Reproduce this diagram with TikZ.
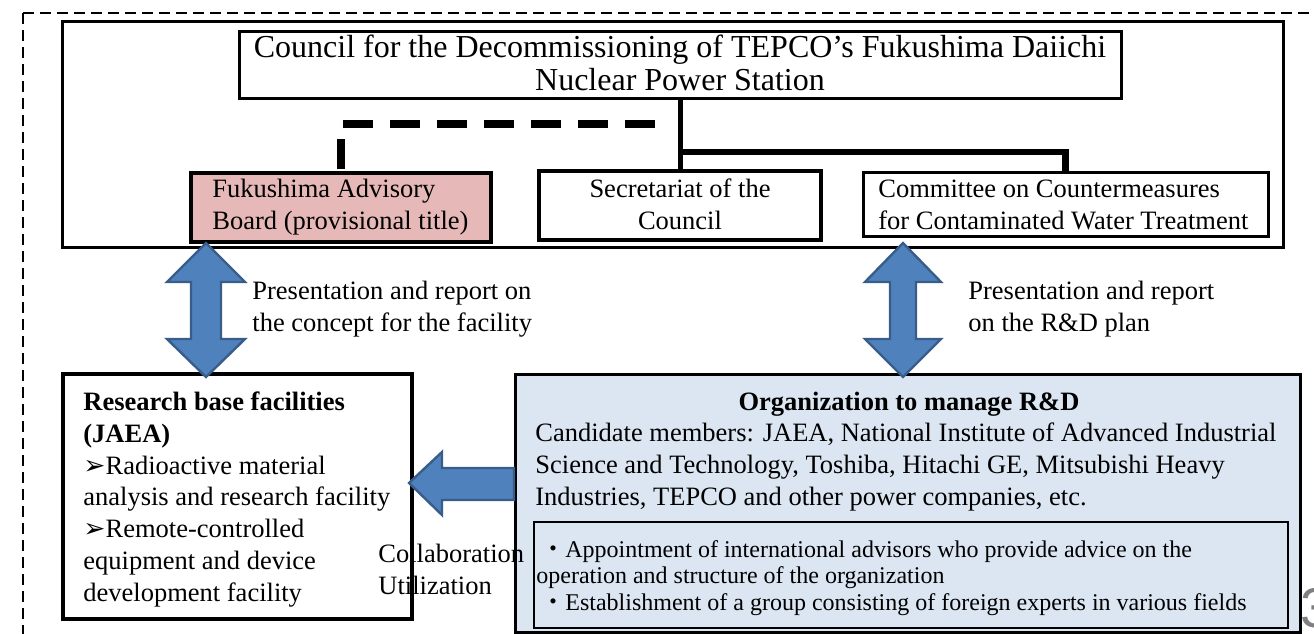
\documentclass[tikz,border=0pt]{standalone}
\usepackage{fontspec}
\setmainfont{Liberation Serif}
\newfontfamily\symfont{DejaVu Sans}
\newfontfamily\cjkfont{Noto Sans CJK JP}
\newfontfamily\numfont{Liberation Sans}
\definecolor{pinkfill}{HTML}{E6B9B8}
\definecolor{arrowblue}{HTML}{4F81BD}
\definecolor{arrowedge}{HTML}{385D8A}
\definecolor{rdfill}{HTML}{DCE6F2}
\tikzset{
  frameline/.style={line width=1.1pt,dash pattern=on 5.5pt off 3pt},
  box/.style={draw,inner sep=0pt,line width=1.5pt},
  heavybox/.style={box,line width=2.2pt},
  txt/.style={inner sep=0pt,align=left,anchor=base west,font=\fontsize{13.25}{15.85}\selectfont},
  blockarrow/.style={fill=arrowblue,draw=arrowedge,line width=1.2pt,line join=miter},
  link/.style={line width=2.5pt},
  branch/.style={line width=3.2pt},
  dashlink/.style={line width=3.6pt,dash pattern=on 15pt off 8.5pt}
}
\begin{document}
\begin{tikzpicture}[x=0.5pt,y=-0.5pt]
\useasboundingbox (0,0) rectangle (1314,633);
\clip (0,0) rectangle (1314,633);
% outer dashed frame
\draw[frameline] (23,13) -- (1400,13);
\draw[frameline] (23,13) -- (23,700);
% council block (text nodes sit on the baseline of their last line)
\node[box,minimum width=610.5pt,minimum height=113pt] (frame) at (672.5,134) {};
\node[box,minimum width=441pt,minimum height=33.5pt] (council) at (680,64.5) {};
\node[txt,anchor=base,align=center,font=\fontsize{16}{16.5}\selectfont] (counciltxt) at (680,90)
  {Council for the Decommissioning of TEPCO’s Fukushima Daiichi\\Nuclear Power Station};
\node[heavybox,fill=pinkfill,minimum width=150pt,minimum height=34.5pt] (fab) at (341,207.5) {};
\node[heavybox,minimum width=141pt,minimum height=34.5pt] (sec) at (680,205.5) {};
\node[box,minimum width=202.5pt,minimum height=32pt] (ccw) at (1065.5,204) {};
\node[txt] (fabtxt) at (212,229.5) {Fukushima Advisory\\Board (provisional title)};
\node[txt,anchor=base,align=center] (sectxt) at (680,229) {Secretariat of the\\Council};
\node[txt] (ccwtxt) at (878,229) {Committee on Countermeasures\\for Contaminated Water Treatment};
% connectors
\coordinate (jn) at (680,152);
\coordinate (dend) at (655,124);
\draw[link] (council.south) -- (sec.north);
\draw[branch] (jn) -| (ccw.north);
\draw[dashlink] (dend) -| (fab.north);
% lower boxes
\node[heavybox,minimum width=174.5pt,minimum height=122.5pt] (res) at (237.5,496.5) {};
\node[box,fill=rdfill,minimum width=392.5pt,minimum height=129pt] (rd) at (907.5,503) {};
\node[box,line width=1.2pt,minimum width=377pt,minimum height=53pt] (inner) at (911,575) {};
% block arrows
\draw[blockarrow] (206,243) -- (245,282) -- (221,282) -- (221,339) -- (245,339) -- (206,377)
  -- (167,339) -- (191,339) -- (191,282) -- (167,282) -- cycle;
\draw[blockarrow] (903,243) -- (941,282) -- (916,282) -- (916,339) -- (941,339) -- (903,377)
  -- (865,339) -- (890,339) -- (890,282) -- (865,282) -- cycle;
\draw[blockarrow] (409,483) -- (442,452) -- (442,468) -- (514,468) -- (514,500) -- (442,500)
  -- (442,515) -- cycle;
% texts
\node[txt] (presl) at (252,331.5) {Presentation and report on\\the concept for the facility};
\node[txt] (presr) at (968,331.5) {Presentation and report\\on the R\&D plan};
\node[txt] (restxt) at (83,601) {\textbf{Research base facilities}\\\textbf{(JAEA)}\\
  {\symfont ➢}Radioactive material\\analysis and research facility\\
  {\symfont ➢}Remote-controlled\\equipment and device\\development facility};
\node[txt,anchor=base] (rdhead) at (909,410) {\textbf{Organization to manage R\&D}};
\node[txt] (rdtxt) at (535,505) {Candidate members: JAEA, National Institute of Advanced Industrial\\
  Science and Technology, Toshiba, Hitachi GE, Mitsubishi Heavy\\
  Industries, TEPCO and other power companies, etc.};
\node[txt,font=\fontsize{12}{13.25}\selectfont] (innertxt) at (541,610)
  {{\cjkfont ・}Appointment of international advisors who provide advice on the\\
  \hspace*{-2.5pt}operation and structure of the organization\\
  {\cjkfont ・}Establishment of a group consisting of foreign experts in various fields};
\node[txt] (collab) at (378,594) {Collaboration\\Utilization};
\node[inner sep=0pt,anchor=base west,text=gray,font=\numfont\fontsize{28}{28}\selectfont] (pgnum) at (1300,627) {3};
\end{tikzpicture}
\end{document}
